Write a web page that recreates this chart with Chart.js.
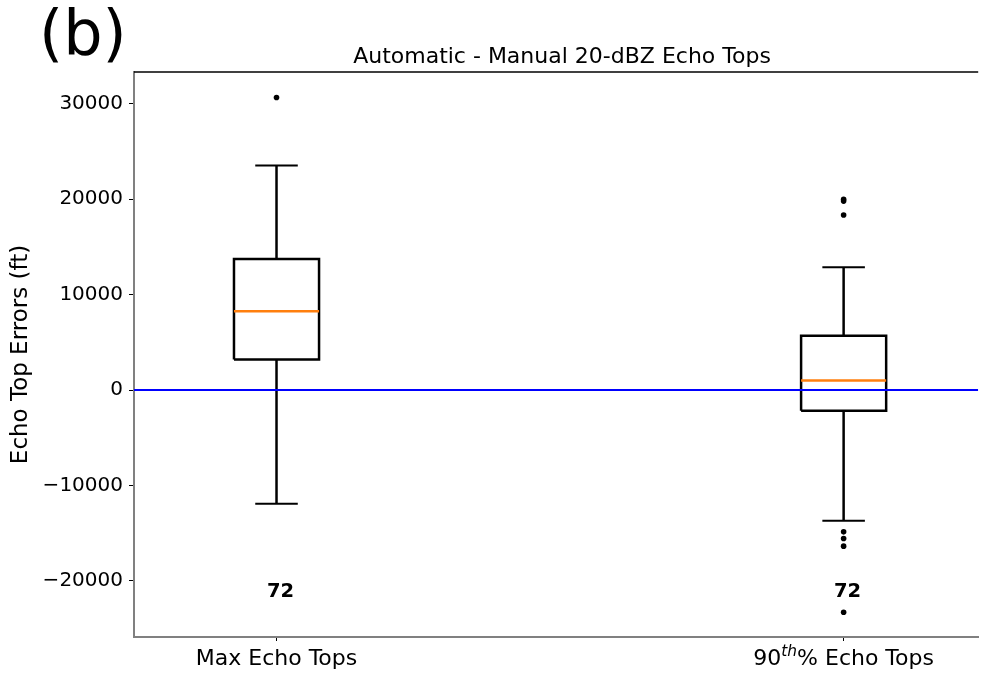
<!DOCTYPE html>
<html>
<head>
<meta charset="utf-8">
<script src="https://cdn.jsdelivr.net/npm/chart.js@4/dist/chart.umd.min.js"></script>
<style>
  html, body { margin: 0; padding: 0; background: #ffffff; }
  #wrap { width: 981px; height: 673px; }
</style>
</head>
<body>
<div id="wrap"><canvas id="c" width="981" height="673"></canvas></div>
<script>
// Box-plot summaries of echo-top errors (ft), one entry per category
const CATEGORIES = ['Max Echo Tops', '90^{th}% Echo Tops'];
const POSITIONS = [1, 2];
const WHISKER_LOW = [-11920, -13700];
const Q1 = [3210, -2170];
const MEDIAN = [8260, 1010];
const Q3 = [13740, 5700];
const WHISKER_HIGH = [23520, 12860];
const OUTLIERS = [
  [30650],
  [20000, 19800, 18350, -14860, -15560, -16360, -23280]
];
const COUNTS = [72, 72];
const Y_TICKS = [-20000, -10000, 0, 10000, 20000, 30000];

// Axis extents and drawing constants
const X_MIN = 0.7487, X_MAX = 2.2373;
const Y_MIN = -25880, Y_MAX = 33330;
const BOX_W = 0.15;            // box width in x units
const CAP_W = BOX_W / 2;       // whisker cap width
const COUNT_Y = -21150;        // vertical anchor of the sample-size labels
const FONT = "'DejaVu Sans', 'Liberation Sans', sans-serif";

Chart.defaults.font.family = FONT;
Chart.defaults.color = '#000';

function seg(points, color, width) {
  return {
    type: 'scatter',
    data: points.map(p => ({ x: p[0], y: p[1] })),
    showLine: true,
    borderColor: color,
    borderWidth: width,
    pointRadius: 0,
    pointHoverRadius: 0,
    fill: false,
    tension: 0,
    borderCapStyle: 'butt',
    borderJoinStyle: 'miter'
  };
}

const datasets = [];
// zero reference line
datasets.push(seg([[X_MIN, 0], [X_MAX, 0]], '#0000ff', 2));

POSITIONS.forEach((x, i) => {
  const h = BOX_W / 2, c = CAP_W / 2;
  datasets.push(seg([[x - h, MEDIAN[i]], [x + h, MEDIAN[i]]], '#ff7f0e', 2.5));
  datasets.push(seg([[x - h, Q1[i]], [x + h, Q1[i]], [x + h, Q3[i]], [x - h, Q3[i]], [x - h, Q1[i]]], '#000', 2.5));
  datasets.push(seg([[x, Q3[i]], [x, WHISKER_HIGH[i]]], '#000', 2.5));
  datasets.push(seg([[x, Q1[i]], [x, WHISKER_LOW[i]]], '#000', 2.5));
  datasets.push(seg([[x - c, WHISKER_HIGH[i]], [x + c, WHISKER_HIGH[i]]], '#000', 2));
  datasets.push(seg([[x - c, WHISKER_LOW[i]], [x + c, WHISKER_LOW[i]]], '#000', 2));
  datasets.push({
    type: 'scatter',
    data: OUTLIERS[i].map(v => ({ x: x, y: v })),
    backgroundColor: '#000',
    borderColor: '#000',
    borderWidth: 0,
    pointRadius: 2.8,
    pointHoverRadius: 2.8
  });
});

// draw a label that may contain a ^{...} superscript
function drawRichLabel(ctx, text, cx, cy, size) {
  const parts = [];
  const re = /\^\{([^}]*)\}/g;
  let last = 0, m;
  while ((m = re.exec(text)) !== null) {
    if (m.index > last) parts.push({ t: text.slice(last, m.index), sup: false });
    parts.push({ t: m[1], sup: true });
    last = re.lastIndex;
  }
  if (last < text.length) parts.push({ t: text.slice(last), sup: false });
  const supSize = size * 0.7;
  const fontOf = p => p.sup ? `italic ${supSize}px ${FONT}` : `${size}px ${FONT}`;
  let total = 0;
  parts.forEach(p => { ctx.font = fontOf(p); p.w = ctx.measureText(p.t).width; total += p.w; });
  let x = cx - total / 2;
  ctx.textAlign = 'left';
  ctx.textBaseline = 'alphabetic';
  const base = cy + size * 0.36;
  parts.forEach(p => {
    ctx.font = fontOf(p);
    ctx.fillText(p.t, x, p.sup ? base - size * 0.42 : base);
    x += p.w;
  });
}

const decor = {
  id: 'decor',
  afterDatasetsDraw(chart) {
    const { ctx, scales } = chart;
    ctx.save();
    ctx.fillStyle = '#000';
    ctx.font = `bold 19.5px ${FONT}`;
    ctx.textAlign = 'center';
    ctx.textBaseline = 'middle';
    POSITIONS.forEach((x, i) => {
      ctx.fillText(String(COUNTS[i]), scales.x.getPixelForValue(x) + 4, scales.y.getPixelForValue(COUNT_Y));
    });
    ctx.restore();
  },
  afterDraw(chart) {
    const { ctx, chartArea, scales } = chart;
    ctx.save();
    // top frame line
    ctx.strokeStyle = '#000';
    ctx.lineWidth = 1.5;
    ctx.beginPath();
    ctx.moveTo(chartArea.left, chartArea.top);
    ctx.lineTo(chartArea.right, chartArea.top);
    ctx.stroke();
    ctx.fillStyle = '#000';
    // panel letter
    ctx.font = `62px ${FONT}`;
    ctx.textAlign = 'left';
    ctx.textBaseline = 'middle';
    ctx.fillText('(b)', 39, 38);
    // title
    ctx.font = `22px ${FONT}`;
    ctx.textAlign = 'center';
    ctx.fillText('Automatic - Manual 20-dBZ Echo Tops', 562, 57);
    // category labels
    POSITIONS.forEach((x, i) => {
      drawRichLabel(ctx, CATEGORIES[i], scales.x.getPixelForValue(x), 657, 22);
    });
    ctx.restore();
  }
};

new Chart(document.getElementById('c'), {
  type: 'scatter',
  data: { datasets },
  options: {
    responsive: false,
    animation: false,
    devicePixelRatio: 1,
    layout: { padding: { top: 72, right: 0, bottom: 0, left: 0 } },
    plugins: {
      legend: { display: false },
      tooltip: { enabled: false },
      title: { display: false }
    },
    scales: {
      x: {
        type: 'linear',
        min: X_MIN,
        max: X_MAX,
        afterBuildTicks: s => { s.ticks = POSITIONS.map(v => ({ value: v })); },
        afterFit: s => { s.height = 36; },
        ticks: { callback: () => '', padding: 0 },
        grid: { drawOnChartArea: false, drawTicks: true, tickLength: 4, tickColor: '#000', tickWidth: 1 },
        border: { color: '#808080', width: 2 }
      },
      y: {
        type: 'linear',
        min: Y_MIN,
        max: Y_MAX,
        afterBuildTicks: s => { s.ticks = Y_TICKS.map(v => ({ value: v })); },
        afterFit: s => { s.width = 134; },
        ticks: {
          font: { size: 20 },
          color: '#000',
          padding: 6,
          callback: v => (v < 0 ? '\u2212' + Math.abs(v) : String(v))
        },
        grid: { drawOnChartArea: false, drawTicks: true, tickLength: 5, tickColor: '#000', tickWidth: 1 },
        border: { color: '#808080', width: 2 },
        title: {
          display: true,
          text: 'Echo Top Errors (ft)',
          font: { size: 23 },
          color: '#000',
          padding: { top: 7, bottom: 0 }
        }
      }
    }
  },
  plugins: [decor]
});
</script>
</body>
</html>
